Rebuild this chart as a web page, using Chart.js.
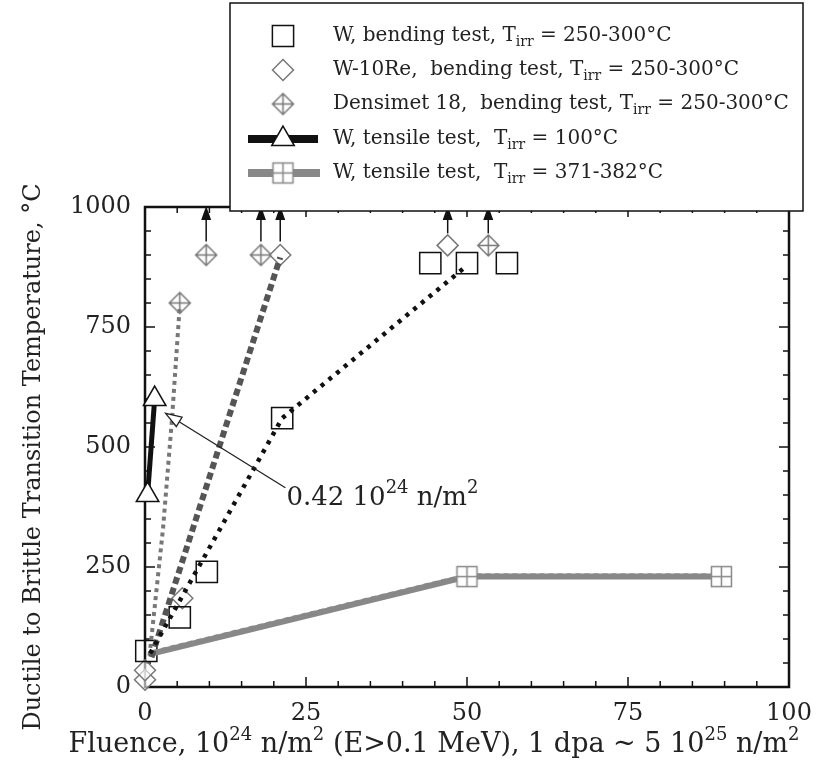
<!DOCTYPE html>
<html>
<head>
<meta charset="utf-8">
<script src="https://cdn.jsdelivr.net/npm/chart.js@4.4.0/dist/chart.umd.min.js"></script>
<style>
  body { margin: 0; background: #fff; }
  #wrap { width: 831px; height: 767px; }
</style>
</head>
<body>
<div id="wrap"><canvas id="dbtt" width="831" height="767"></canvas></div>
<script>
const SERIF = "'DejaVu Serif', 'Liberation Serif', serif";

// W, bending test, Tirr = 250-300°C
const wBendX = [0.2, 5.4, 9.6, 21.3, 44.3, 50.0, 56.2];
const wBendY = [75, 145, 240, 560, 883, 883, 883];
// W-10Re, bending test
const wReX = [0, 0, 5.8, 21.0, 47.0];
const wReY = [15, 35, 185, 900, 920];
// Densimet 18, bending test
const densX = [5.4, 9.5, 18.0, 53.3];
const densY = [800, 900, 900, 920];
// W, tensile test, Tirr = 100°C
const tens100X = [0.4, 1.5];
const tens100Y = [400, 600];
// W, tensile test, Tirr = 371-382°C
const tens371X = [1.2, 50.0, 89.5];
const tens371Y = [70, 230, 230];
const tens371FitY = [74, 234, 234];

// trend lines drawn through the bending data
const wBendFitX = [0.8, 21.3, 50.0];
const wBendFitY = [70, 560, 878];
const wReFitX = [1.0, 21.0];
const wReFitY = [62, 895];
const densFitX = [0.7, 2.8, 4.2, 5.4];
const densFitY = [65, 330, 560, 795];

// lower-bound arrows (no transition found below the test range)
const arrowX = [9.5, 18.0, 21.0, 47.0, 53.3];
const arrowFromY = [928, 928, 928, 945, 945];
const arrowToY = [1002, 1002, 1002, 1002, 1002];

// "0.42 10^24 n/m^2" callout
const calloutTip = { x: 3.2, y: 570 };
const calloutFrom = { x: 21.8, y: 415 };
const calloutText = [
    { t: '0.42 10' }, { t: '24', sup: true }, { t: ' n/m' }, { t: '2', sup: true }
];

const xTitle = [
    { t: 'Fluence, 10' }, { t: '24', sup: true }, { t: ' n/m' }, { t: '2', sup: true },
    { t: ' (E>0.1 MeV), 1 dpa ~ 5 10' }, { t: '25', sup: true }, { t: ' n/m' }, { t: '2', sup: true }
];
const yTitle = 'Ductile to Brittle Transition Temperature, °C';

const legendLabels = [
    [{ t: 'W, bending test, T' }, { t: 'irr', sub: true }, { t: ' = 250-300°C' }],
    [{ t: 'W-10Re,  bending test, T' }, { t: 'irr', sub: true }, { t: ' = 250-300°C' }],
    [{ t: 'Densimet 18,  bending test, T' }, { t: 'irr', sub: true }, { t: ' = 250-300°C' }],
    [{ t: 'W, tensile test,  T' }, { t: 'irr', sub: true }, { t: ' = 100°C' }],
    [{ t: 'W, tensile test,  T' }, { t: 'irr', sub: true }, { t: ' = 371-382°C' }]
];

const pts = (xs, ys) => xs.map((x, i) => ({ x: x, y: ys[i] }));

function makeMarker(size, draw) {
    const c = document.createElement('canvas');
    c.width = size;
    c.height = size;
    draw(c.getContext('2d'), size / 2);
    return c;
}

// diamond with a cross inside (Densimet)
const densMarker = makeMarker(25, (g, m) => {
    g.strokeStyle = '#777';
    g.lineWidth = 1.5;
    g.beginPath();
    g.moveTo(m, m - 10.5); g.lineTo(m + 10.5, m); g.lineTo(m, m + 10.5); g.lineTo(m - 10.5, m);
    g.closePath();
    g.moveTo(m, m - 10.5); g.lineTo(m, m + 10.5);
    g.moveTo(m - 10.5, m); g.lineTo(m + 10.5, m);
    g.stroke();
});

// square split in four (tensile 371-382°C)
const boxPlusMarker = makeMarker(25, (g, m) => {
    g.fillStyle = '#fff';
    g.fillRect(m - 10, m - 10, 20, 20);
    g.strokeStyle = '#888';
    g.lineWidth = 1.5;
    g.strokeRect(m - 10, m - 10, 20, 20);
    g.beginPath();
    g.moveTo(m, m - 10); g.lineTo(m, m + 10);
    g.moveTo(m - 10, m); g.lineTo(m + 10, m);
    g.stroke();
});

function richWidth(ctx, segs, size) {
    let w = 0;
    segs.forEach(s => {
        ctx.font = ((s.sub || s.sup) ? Math.round(size * 0.68) : size) + 'px ' + SERIF;
        w += ctx.measureText(s.t).width;
    });
    return w;
}

function drawRich(ctx, segs, x, y, size) {
    ctx.textBaseline = 'middle';
    ctx.textAlign = 'left';
    segs.forEach(s => {
        const small = s.sub || s.sup;
        ctx.font = (small ? Math.round(size * 0.68) : size) + 'px ' + SERIF;
        const dy = s.sub ? size * 0.32 : (s.sup ? -size * 0.36 : 0);
        ctx.fillText(s.t, x, y + dy);
        x += ctx.measureText(s.t).width;
    });
}

function arrowHead(ctx, x, y, ang, len, half, filled) {
    ctx.beginPath();
    ctx.moveTo(x, y);
    ctx.lineTo(x - len * Math.cos(ang) + half * Math.sin(ang), y - len * Math.sin(ang) - half * Math.cos(ang));
    ctx.lineTo(x - len * Math.cos(ang) - half * Math.sin(ang), y - len * Math.sin(ang) + half * Math.cos(ang));
    ctx.closePath();
    if (filled) ctx.fill(); else { ctx.fillStyle = '#fff'; ctx.fill(); ctx.stroke(); }
}

const framePlugin = {
    id: 'frame',
    beforeDatasetsDraw(chart) {
        const { ctx, chartArea: a, scales: { x, y } } = chart;
        ctx.save();
        ctx.strokeStyle = '#111';
        ctx.lineWidth = 1.5;
        ctx.beginPath();
        for (let v = x.min; v <= x.max; v += 5) {
            const px = x.getPixelForValue(v);
            const len = v % 25 === 0 ? 10 : 6;
            ctx.moveTo(px, a.bottom); ctx.lineTo(px, a.bottom - len);
            ctx.moveTo(px, a.top); ctx.lineTo(px, a.top + len);
        }
        for (let v = y.min; v <= y.max; v += 50) {
            const py = y.getPixelForValue(v);
            const len = v % 250 === 0 ? 10 : 6;
            ctx.moveTo(a.left, py); ctx.lineTo(a.left + len, py);
            ctx.moveTo(a.right, py); ctx.lineTo(a.right - len, py);
        }
        ctx.stroke();
        ctx.lineWidth = 2.5;
        ctx.strokeRect(a.left, a.top, a.right - a.left, a.bottom - a.top);

        // axis titles
        ctx.fillStyle = '#222';
        const w = richWidth(ctx, xTitle, 27);
        drawRich(ctx, xTitle, 434 - w / 2, 745, 27);
        ctx.translate(34, 457);
        ctx.rotate(-Math.PI / 2);
        ctx.font = '24px ' + SERIF;
        ctx.textAlign = 'center';
        ctx.textBaseline = 'middle';
        ctx.fillText(yTitle, 0, 0);
        ctx.restore();
    },
    afterDatasetsDraw(chart) {
        const { ctx, scales: { x, y } } = chart;
        ctx.save();
        // up arrows
        ctx.strokeStyle = '#111';
        ctx.fillStyle = '#111';
        ctx.lineWidth = 1.5;
        arrowX.forEach((v, i) => {
            const px = x.getPixelForValue(v);
            const y0 = y.getPixelForValue(arrowFromY[i]);
            const y1 = y.getPixelForValue(arrowToY[i]);
            ctx.beginPath();
            ctx.moveTo(px, y0); ctx.lineTo(px, y1 + 8);
            ctx.stroke();
            arrowHead(ctx, px, y1, -Math.PI / 2, 14, 5, true);
        });
        // callout
        const tx = x.getPixelForValue(calloutTip.x), ty = y.getPixelForValue(calloutTip.y);
        const fx = x.getPixelForValue(calloutFrom.x), fy = y.getPixelForValue(calloutFrom.y);
        const ang = Math.atan2(ty - fy, tx - fx);
        ctx.strokeStyle = '#222';
        ctx.lineWidth = 1.3;
        ctx.beginPath();
        ctx.moveTo(fx, fy); ctx.lineTo(tx - 14 * Math.cos(ang), ty - 14 * Math.sin(ang));
        ctx.stroke();
        arrowHead(ctx, tx, ty, ang, 16, 5.5, false);
        ctx.fillStyle = '#222';
        drawRich(ctx, calloutText, fx + 1, fy + 10, 26);
        ctx.restore();
    },
    afterDraw(chart) {
        const { ctx } = chart;
        const box = { l: 230, t: 3, r: 803, b: 211 };
        const rows = [36, 70, 104, 139, 173];
        const symX = 283, textX = 333;
        ctx.save();
        ctx.fillStyle = '#fff';
        ctx.fillRect(box.l, box.t, box.r - box.l, box.b - box.t);
        ctx.strokeStyle = '#111';
        ctx.lineWidth = 1.5;
        ctx.strokeRect(box.l, box.t, box.r - box.l, box.b - box.t);

        const H = Chart.helpers;
        // square
        ctx.strokeStyle = '#111'; ctx.fillStyle = 'rgba(0,0,0,0)';
        H.drawPoint(ctx, { pointStyle: 'rect', radius: 15, borderWidth: 1.5, rotation: 0 }, symX, rows[0]);
        // diamond
        ctx.strokeStyle = '#777';
        H.drawPoint(ctx, { pointStyle: 'rectRot', radius: 10.5, borderWidth: 1.5, rotation: 0 }, symX, rows[1]);
        // crossed diamond
        ctx.drawImage(densMarker, symX - densMarker.width / 2, rows[2] - densMarker.height / 2);
        // black line + triangle
        ctx.fillStyle = '#111';
        ctx.fillRect(248, rows[3] - 4, 70, 8);
        ctx.strokeStyle = '#111'; ctx.fillStyle = '#fff';
        H.drawPoint(ctx, { pointStyle: 'triangle', radius: 13, borderWidth: 1.5, rotation: 0 }, symX, rows[3]);
        // grey line + split square
        ctx.fillStyle = '#888';
        ctx.fillRect(248, rows[4] - 4, 72, 8);
        ctx.drawImage(boxPlusMarker, symX - boxPlusMarker.width / 2, rows[4] - boxPlusMarker.height / 2);

        ctx.fillStyle = '#222';
        legendLabels.forEach((segs, i) => drawRich(ctx, segs, textX, rows[i], 20));
        ctx.restore();
    }
};

const ctx = document.getElementById('dbtt');

const config = {
    type: 'scatter',
    data: {
        datasets: [
            {
                label: 'W bending fit',
                data: pts(wBendFitX, wBendFitY),
                showLine: true,
                borderColor: '#111',
                borderWidth: 4.5,
                borderDash: [4, 6],
                pointRadius: 0
            },
            {
                label: 'W-10Re fit',
                data: pts(wReFitX, wReFitY),
                showLine: true,
                borderColor: '#555',
                borderWidth: 6,
                borderDash: [7, 4],
                pointRadius: 0
            },
            {
                label: 'Densimet 18 fit',
                data: pts(densFitX, densFitY),
                showLine: true,
                borderColor: '#777',
                borderWidth: 4,
                borderDash: [4, 4],
                pointRadius: 0
            },
            {
                label: 'W, tensile test, Tirr = 371-382°C',
                data: pts(tens371X, tens371Y),
                showLine: true,
                borderColor: '#888',
                borderWidth: 6,
                pointStyle: boxPlusMarker,
                pointRadius: [0, 10, 10]
            },
            {
                label: 'W, tensile test, Tirr = 371-382°C fit',
                data: pts(tens371X, tens371FitY),
                showLine: true,
                borderColor: '#9a9a9a',
                borderWidth: 3,
                borderDash: [5, 4],
                pointRadius: 0
            },
            {
                label: 'W, tensile test, Tirr = 100°C',
                data: pts(tens100X, tens100Y),
                showLine: true,
                borderColor: '#111',
                borderWidth: 5,
                pointStyle: 'triangle',
                pointRadius: 13,
                pointBorderWidth: 1.5,
                pointBorderColor: '#111',
                pointBackgroundColor: '#fff'
            },
            {
                label: 'W, bending test, Tirr = 250-300°C',
                data: pts(wBendX, wBendY),
                pointStyle: 'rect',
                pointRadius: 15,
                pointBorderWidth: 1.5,
                pointBorderColor: '#111',
                pointBackgroundColor: 'rgba(0,0,0,0)'
            },
            {
                label: 'W-10Re, bending test, Tirr = 250-300°C',
                data: pts(wReX, wReY),
                pointStyle: 'rectRot',
                pointRadius: 10.5,
                pointBorderWidth: 1.5,
                pointBorderColor: '#777',
                pointBackgroundColor: 'rgba(255,255,255,0.6)'
            },
            {
                label: 'Densimet 18, bending test, Tirr = 250-300°C',
                data: pts(densX, densY),
                pointStyle: densMarker,
                pointRadius: 10
            }
        ]
    },
    options: {
        responsive: false,
        animation: false,
        clip: false,
        layout: {
            padding: { top: 207, right: 42, left: 0, bottom: 0 }
        },
        plugins: {
            legend: { display: false },
            tooltip: { enabled: false }
        },
        scales: {
            x: {
                type: 'linear',
                min: 0,
                max: 100,
                afterFit(scale) { scale.height = 80; },
                grid: { display: false },
                border: { display: false },
                ticks: {
                    stepSize: 25,
                    autoSkip: false,
                    maxRotation: 0,
                    padding: 4,
                    color: '#222',
                    font: { family: SERIF, size: 24 }
                }
            },
            y: {
                type: 'linear',
                min: 0,
                max: 1000,
                afterFit(scale) { scale.width = 145; },
                grid: { display: false },
                border: { display: false },
                ticks: {
                    stepSize: 250,
                    autoSkip: false,
                    padding: 6,
                    color: '#222',
                    font: { family: SERIF, size: 24 },
                    callback: v => String(v)
                }
            }
        }
    },
    plugins: [framePlugin]
};

new Chart(ctx, config);
</script>
</body>
</html>
